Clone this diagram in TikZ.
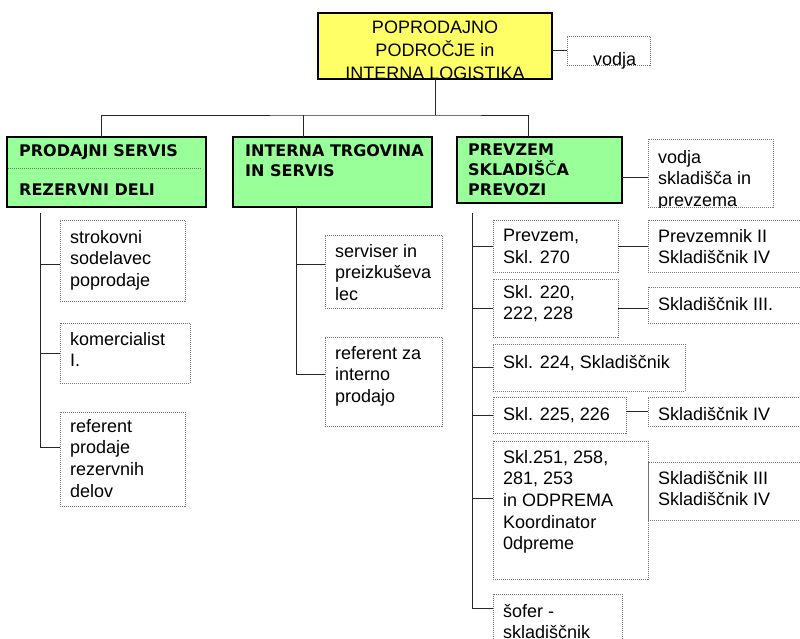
\documentclass[tikz,border=0pt]{standalone}
\usepackage{fontspec}
\setmainfont{Liberation Sans}
\newfontfamily\headfont{DejaVu Sans}
\definecolor{headyellow}{HTML}{FFFF66}
\definecolor{unitgreen}{HTML}{99FF99}
\begin{document}
\begin{tikzpicture}[x=1pt,y=-1pt,
  wh/.style 2 args={minimum width=#1pt, minimum height=#2pt},
  cell/.style={anchor=north west, inner sep=0pt, outer sep=0pt},
  headbox/.style={cell, draw, line width=2pt, fill=headyellow},
  unitbox/.style={cell, draw, line width=2pt, fill=unitgreen},
  jobbox/.style={cell, draw=black!55, line width=1pt, dash pattern=on 1pt off 1pt},
  txt/.style={anchor=north west, align=left, inner xsep=10pt, inner ysep=9pt,
    font=\fontsize{18}{21.6}\selectfont, execute at begin node=\strut},
  hd/.style={anchor=north west, align=left, inner xsep=12pt, inner ysep=7pt,
    font=\headfont\bfseries\fontsize{16}{20}\selectfont, execute at begin node=\strut},
  con/.style={draw=black!85, line width=1pt}]
\useasboundingbox (0,0) rectangle (800,638);
\clip (0,0) rectangle (800,638);
\fill[white] (0,0) rectangle (800,638);

% head of the department
\node[headbox, wh={234}{66}] (top) at (318,13) {};
\begin{scope}
\clip ([shift={(1,1)}]top.north west) rectangle ([shift={(-1,-1)}]top.south east);
\node[txt, anchor=north, align=center, inner ysep=8pt, font=\fontsize{18}{23}\selectfont] (toptxt) at (top.north) {POPRODAJNO\\PODROČJE in\\INTERNA LOGISTIKA};
\end{scope}
\node[jobbox, wh={83}{29}] (vodja) at (567,36) {};
\node[txt, inner ysep=14pt] (vodjatxt) at ([xshift=16pt]vodja.north west) {vodja};
\draw[con] (vodja.west) -- (vodja.west -| top.east);

% three units
\node[unitbox, wh={199}{70}] (prod) at (7,137) {};
\draw[jobbox] ([xshift=1pt,yshift=4pt]prod.west) -- ([xshift=-5pt,yshift=4pt]prod.east);
\node[hd] (prodtxt) at (prod.north west) {PRODAJNI SERVIS\\[19pt]REZERVNI DELI};
\node[unitbox, wh={199}{70}] (int) at (233,137) {};
\node[hd] (inttxt) at (int.north west) {INTERNA TRGOVINA\\IN SERVIS};
\node[unitbox, wh={165}{66}] (prev) at (457,137) {};
\node[hd, inner xsep=11pt] (prevtxt) at (prev.north west) {PREVZEM\\SKLADIŠ{\mdseries Č}A\\PREVOZI};

\coordinate (bus) at (435,115);
\draw[con] (top.south) -- (bus);
\draw[con] ([xshift=-5.5pt]prod.north) |- (bus) -| ([xshift=-11.5pt]prev.north);
\draw[con] ([xshift=-29.5pt]int.north) -- ([xshift=-29.5pt]int.north |- bus);

\node[jobbox, wh={125}{68}] (vs) at (648,139) {};
\begin{scope}
\clip (vs.north west) rectangle (vs.south east);
\node[txt, inner ysep=11pt] (vstxt) at (vs.north west) {vodja\\skladišča in\\prevzema};
\end{scope}
\draw[con] ([yshift=-7pt]prev.east) -- ([yshift=-7pt]prev.east -| vs.west);

% prodajni servis
\node[jobbox, wh={125}{81}] (strok) at (60,220) {};
\node[txt, inner ysep=10pt] (stroktxt) at (strok.north west) {strokovni\\sodelavec\\poprodaje};
\node[jobbox, wh={130}{60}] (kom) at (60,323) {};
\node[txt] (komtxt) at (kom.north west) {komercialist\\I.};
\node[jobbox, wh={125}{94}] (refp) at (60,412) {};
\node[txt, inner ysep=7pt] (refptxt) at (refp.north west) {referent\\prodaje\\rezervnih\\delov};
\coordinate (pa) at ([shift={(33,6)}]prod.south west);
\draw[con] (pa) |- ([yshift=12pt]refp.west);
\draw[con] ([yshift=-3.5pt]strok.west) -- ([yshift=-3.5pt]strok.west -| pa);
\draw[con] (kom.west) -- (kom.west -| pa);

% interna trgovina
\node[jobbox, wh={117}{73}] (serv) at (325,235) {};
\node[txt] (servtxt) at (serv.north west) {serviser in\\preizkuševa\\lec};
\node[jobbox, wh={117}{89}] (refi) at (325,337) {};
\node[txt] (refitxt) at (refi.north west) {referent za\\interno\\prodajo};
\coordinate (ia) at ([xshift=-36.5pt]int.south);
\draw[con] (ia) |- ([yshift=7.5pt]refi.west);
\draw[con] ([yshift=7.5pt]serv.west) -- ([yshift=7.5pt]serv.west -| ia);

% skladisca
\node[jobbox, wh={125}{52}] (p270) at (493,220) {};
\node[txt] (p270txt) at (p270.north west) {Prevzem,\\Skl. 270};
\node[jobbox, wh={125}{58}] (s220) at (493,279) {};
\node[txt, inner ysep=6pt] (s220txt) at (s220.north west) {Skl. 220,\\222, 228};
\node[jobbox, wh={192}{47}] (s224) at (493,344) {};
\node[txt] (s224txt) at (s224.north west) {Skl. 224, Skladiščnik};
\node[jobbox, wh={133}{36}] (s225) at (493,397) {};
\node[txt, inner ysep=8pt] (s225txt) at (s225.north west) {Skl. 225, 226};
\node[jobbox, wh={155}{138}] (s251) at (493,441) {};
\node[txt] (s251txt) at (s251.north west) {Skl.251, 258,\\281, 253\\in ODPREMA\\Koordinator\\0dpreme};
\node[jobbox, wh={129}{60}] (sof) at (493,594) {};
\node[txt, inner ysep=10pt] (softxt) at (sof.north west) {šofer -\\skladiščnik};
\coordinate (ra) at ([shift={(15,10)}]prev.south west);
\draw[con] (ra) |- ([yshift=-14pt]sof.north west);
\foreach \n in {p270,s220,s224,s225}
  \draw[con] (ra |- \n.west) -- (\n.west);
\draw[con] ([yshift=12pt]s251.west) -- ([yshift=12pt]s251.west -| ra);

\node[jobbox, wh={160}{52}] (k2) at (648,220) {};
\node[txt] (k2txt) at (k2.north west) {Prevzemnik II\\Skladiščnik IV};
\node[jobbox, wh={160}{36}] (k3) at (648,287) {};
\node[txt, inner ysep=8pt] (k3txt) at (k3.north west) {Skladiščnik III.};
\node[jobbox, wh={160}{29}] (k4) at (648,397) {};
\node[txt, inner ysep=8pt] (k4txt) at (k4.north west) {Skladiščnik IV};
\node[jobbox, wh={160}{58}] (k34) at (648,462) {};
\node[txt, inner ysep=9pt] (k34txt) at (k34.north west) {Skladiščnik III\\Skladiščnik IV};
\draw[con] (p270.east) -- (k2.west);
\draw[con] (s220.east) -- (s220.east -| k3.west);
\draw[con] (k4.west -| s225.east) -- (k4.west);
\end{tikzpicture}
\end{document}
